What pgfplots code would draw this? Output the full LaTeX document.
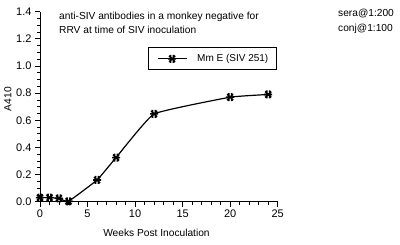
\documentclass[border=0pt]{standalone}
\usepackage{fontspec}
\setmainfont{Liberation Sans}
\usepackage{pgfplots}
\pgfplotsset{compat=1.18}
\pgfdeclareplotmark{star8}{%
  \pgfpathmoveto{\pgfqpoint{-\pgfplotmarksize}{0pt}}\pgfpathlineto{\pgfqpoint{\pgfplotmarksize}{0pt}}%
  \pgfpathmoveto{\pgfqpoint{-.35\pgfplotmarksize}{-\pgfplotmarksize}}\pgfpathlineto{\pgfqpoint{-.35\pgfplotmarksize}{\pgfplotmarksize}}%
  \pgfpathmoveto{\pgfqpoint{.35\pgfplotmarksize}{-\pgfplotmarksize}}\pgfpathlineto{\pgfqpoint{.35\pgfplotmarksize}{\pgfplotmarksize}}%
  \pgfpathmoveto{\pgfqpoint{-.75\pgfplotmarksize}{-.75\pgfplotmarksize}}\pgfpathlineto{\pgfqpoint{.75\pgfplotmarksize}{.75\pgfplotmarksize}}%
  \pgfpathmoveto{\pgfqpoint{-.75\pgfplotmarksize}{.75\pgfplotmarksize}}\pgfpathlineto{\pgfqpoint{.75\pgfplotmarksize}{-.75\pgfplotmarksize}}%
  \pgfusepathqstroke}
\begin{document}
\begin{tikzpicture}[x=1bp,y=1bp]
\useasboundingbox (0,0) rectangle (400,245);
\begin{axis}[
  at={(40bp,43.3bp)}, anchor=south west, scale only axis,
  width=237.7bp, height=190bp,
  xmin=0, xmax=25, ymin=0, ymax=1.4,
  axis x line*=bottom, axis y line*=left,
  xtick pos=bottom, ytick pos=left, tick align=outside,
  xtick={0,5,...,25}, ytick={0,0.2,...,1.4},
  minor x tick num=4, minor y tick num=3,
  major tick length=5bp, minor tick length=3bp,
  axis line style={line width=0.9bp},
  every tick/.style={line width=0.7bp, black},
  /pgf/number format/assume math mode=true,
  yticklabel style={/pgf/number format/.cd, fixed, fixed zerofill, precision=1},
  ticklabel style={font=\fontsize{11bp}{13bp}\selectfont},
  label style={font=\fontsize{10.2bp}{12bp}\selectfont},
  xlabel={Weeks Post Inoculation},
  ylabel={A410},
  xlabel style={at={(axis description cs:0.49,0)}, anchor=north, yshift=-24bp},
  ylabel style={at={(axis description cs:0,0.54)}, anchor=south, yshift=25bp},
  legend style={at={(0.4545,0.8116)}, anchor=north west, draw=black, line width=0.9bp,
    font=\fontsize{10bp}{12bp}\selectfont, inner xsep=8.5bp, inner ysep=4.5bp,
    column sep=10bp, nodes={inner xsep=0pt, inner ysep=2bp}},
  legend image code/.code={\draw[#1, mark=none, line width=1.2bp] (0bp,0bp) -- (29bp,0bp);
    \draw[#1, line width=1.6bp, mark=star8, mark size=4bp] plot coordinates {(14.5bp,0bp)};},
]
\addplot[black, line width=1.2bp, mark=star8, mark size=4bp, smooth, tension=0.2,
  mark options={line width=1.6bp}]
  coordinates {(0,0.03)(1,0.03)(2,0.025)(3,0.003)(6,0.16)(8,0.325)(12,0.647)(20,0.77)(24,0.79)};
\addlegendentry{Mm E (SIV 251)\hspace{5bp}}
\end{axis}
\begin{scope}[every node/.style={font=\fontsize{10.2bp}{12bp}\selectfont, inner sep=0pt}]
\node[anchor=base west] at (59,226) {anti-SIV antibodies in a monkey negative for};
\node[anchor=base west] at (59,212) {RRV at time of SIV inoculation};
\node[anchor=base west] at (338,229) {sera@1:200};
\node[anchor=base west] at (338,214) {conj@1:100};
\end{scope}
\end{tikzpicture}
\end{document}
